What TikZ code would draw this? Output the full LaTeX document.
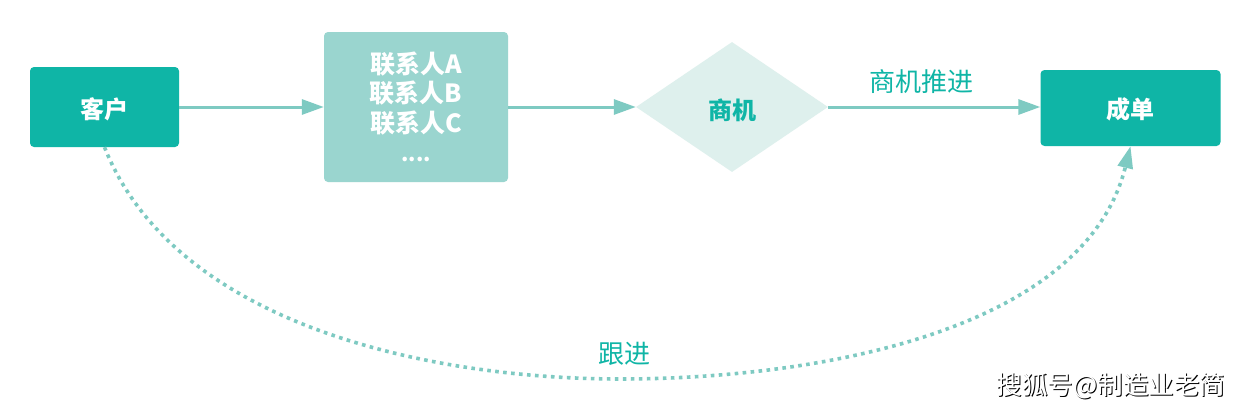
\documentclass[tikz,border=0pt]{standalone}
\usepackage{fontspec}
\setmainfont{Noto Sans CJK SC}
\usetikzlibrary{arrows.meta,shapes.geometric}
\definecolor{teal1}{HTML}{0FB5A6}
\definecolor{teal2}{HTML}{9AD5CF}
\definecolor{pale}{HTML}{DEF0ED}
\definecolor{linec}{HTML}{7ECAC2}
\tikzset{
  x=1pt,y=-1pt,
  mainbox/.style={fill=teal1,rounded corners=4pt,inner sep=0,text=white,font=\fontsize{24}{28}\selectfont\bfseries,align=center},
  contactbox/.style={fill=teal2,rounded corners=4pt,inner sep=0,text=white,font=\fontsize{25}{29.5}\selectfont\bfseries,align=center},
  decision/.style={diamond,aspect=1.5,fill=pale,inner sep=0,text=teal1,font=\fontsize{24}{28}\selectfont\bfseries},
  flow/.style={draw=linec,line width=3pt,-{Triangle[length=22pt,width=15pt]}},
  follow/.style={draw=linec,line width=3.6pt,dash pattern=on 3.6pt off 4.4pt,-{Triangle[length=22pt,width=15pt]}},
  edgelabel/.style={text=teal1,inner sep=0,font=\fontsize{26}{30}\selectfont},
  mark text/.style={inner sep=0,font=\fontsize{25.6}{30}\selectfont},
  plain text/.style={inner sep=0}
}
\begin{document}
\begin{tikzpicture}
\useasboundingbox[fill=white] (0,0) rectangle (1254,415);
\node[mainbox,minimum width=149pt,minimum height=80pt] (kh) at (104.5,107) {};
\node[mainbox,plain text] (kht) at (104.5,109) {客户};
\node[contactbox,minimum width=184pt,minimum height=150pt] (lx) at (416,107) {};
\node[contactbox,plain text,fill=none] (lxt) at (416,107) {联系人A\\联系人B\\联系人C\\{\fontsize{21}{29.5}\selectfont\textbf{....}}};
\node[decision,minimum width=192pt,minimum height=130pt] (sj) at (732,107) {};
\node[inner sep=0,text=teal1,font=\fontsize{24}{28}\selectfont\bfseries] (sjt) at (732,110) {商机};
\node[mainbox,minimum width=180pt,minimum height=76pt] (cd) at (1130.5,108) {};
\node[mainbox,plain text] (cdt) at (1130.5,109) {成单};
\coordinate (low) at (620,379);
\draw[flow] (kh.east) -- (lx.west |- kh.east);
\draw[flow] (lx.east |- sj.west) -- (sj.west);
\draw[flow] (sj.east) -- (cd.west |- sj.east);
\draw[follow] (kh.south) .. controls (175,325) and (430,379) .. (low) .. controls (820,379) and (1085,330) .. (cd.south);
\node[edgelabel] (l1) at (921,82) {商机推进};
\node[edgelabel] (l2) at (624,354) {跟进};
\node[mark text,text=black] (wm0) at (1112,386.5) {搜狐号@制造业老简};
\node[mark text,text=white] (wm) at (1111,385.5) {搜狐号@制造业老简};
\end{tikzpicture}
\end{document}
